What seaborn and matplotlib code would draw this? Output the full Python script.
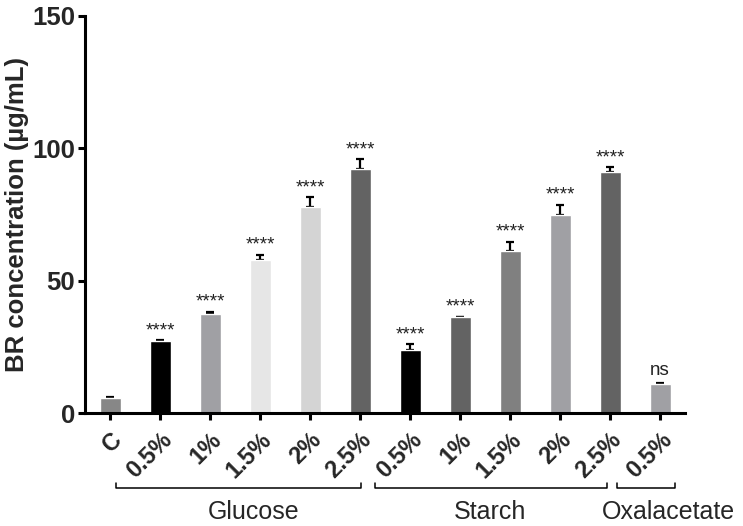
import matplotlib
matplotlib.use("Agg")
import matplotlib.pyplot as plt
import matplotlib.transforms as mtransforms
import seaborn as sns
import pandas as pd

# ---- data ----
group_ids = ["C", "G0.5", "G1", "G1.5", "G2", "G2.5",
             "S0.5", "S1", "S1.5", "S2", "S2.5", "O0.5"]
tick_labels = ["C", "0.5%", "1%", "1.5%", "2%", "2.5%",
               "0.5%", "1%", "1.5%", "2%", "2.5%", "0.5%"]
values = [5.6, 27.0, 37.5, 57.7, 77.7, 92.2,
          23.8, 36.1, 61.1, 74.7, 90.8, 10.9]
errors = [0.3, 0.5, 0.7, 1.9, 3.7, 3.5,
          2.1, 0.3, 3.5, 3.9, 2.0, 0.5]
signif = ["", "****", "****", "****", "****", "****",
          "****", "****", "****", "****", "****", "ns"]
colors = ["#878787", "#000000", "#a0a0a4", "#e6e6e6", "#d4d4d4", "#636363",
          "#000000", "#636363", "#808080", "#a0a0a4", "#636363", "#a0a0a4"]
groups = ["Glucose", "Starch", "Oxalacetate"]
group_spans = [(0.12, 5.02), (5.30, 9.94), (10.14, 11.29)]
group_label_x = [2.87, 7.6, 11.17]

df = pd.DataFrame({"id": group_ids, "value": values})

sns.set_style("ticks")
plt.rcParams["font.family"] = ["Liberation Sans", "DejaVu Sans"]

fig = plt.figure(figsize=(7.43, 5.26), dpi=100)
ax = fig.add_axes([0.1144, 0.2148, 0.8076, 0.7557])

sns.barplot(data=df, x="id", y="value", hue="id", palette=colors,
            legend=False, width=0.42, ax=ax, saturation=1, errorbar=None,
            zorder=2)

xs = list(range(len(values)))
ax.errorbar(xs, values, yerr=[[0] * len(errors), errors], fmt="none",
            ecolor="black", elinewidth=1.6, capsize=2.6, capthick=1.6,
            zorder=1)

for x, v, e, s in zip(xs, values, errors, signif):
    if s:
        ax.annotate(s, xy=(x, v + e), xytext=(0, 0.8 if s != "ns" else 2.5),
                    textcoords="offset points",
                    ha="center", va="bottom", fontsize=13.5,
                    color="#222222")

ax.set_xlim(-0.5, 11.5)
ax.set_ylim(0, 150)
ax.set_yticks([0, 50, 100, 150])
ax.set_yticklabels(["0", "50", "100", "150"], fontsize=18.5, fontweight="bold")
ax.set_xticks(xs)
ax.set_xticklabels(tick_labels, rotation=45, ha="right", rotation_mode="anchor",
                   fontsize=17, fontweight="bold")
ax.set_xlabel("")
ax.set_ylabel("BR concentration (µg/mL)", fontsize=18.5, fontweight="bold",
              labelpad=2.5)

for sp in ["top", "right"]:
    ax.spines[sp].set_visible(False)
for sp in ["left", "bottom"]:
    ax.spines[sp].set_linewidth(2.2)
    ax.spines[sp].set_color("black")
    ax.spines[sp].set_zorder(3)
ax.tick_params(axis="both", direction="out", width=2.2, length=5, color="black")
ax.tick_params(axis="y", pad=2)
ax.tick_params(axis="x", pad=6)

trans = mtransforms.blended_transform_factory(ax.transData, ax.transAxes)
yb = -0.189
hook = 0.012
for (x0, x1), name, lx in zip(group_spans, groups, group_label_x):
    ax.plot([x0, x0, x1, x1], [yb + hook, yb, yb, yb + hook], color="black",
            lw=1.1, transform=trans, clip_on=False)
    ax.text(lx, -0.25, name, transform=trans, ha="center", va="center",
            fontsize=18)

fig.savefig("out.png", dpi=100)
